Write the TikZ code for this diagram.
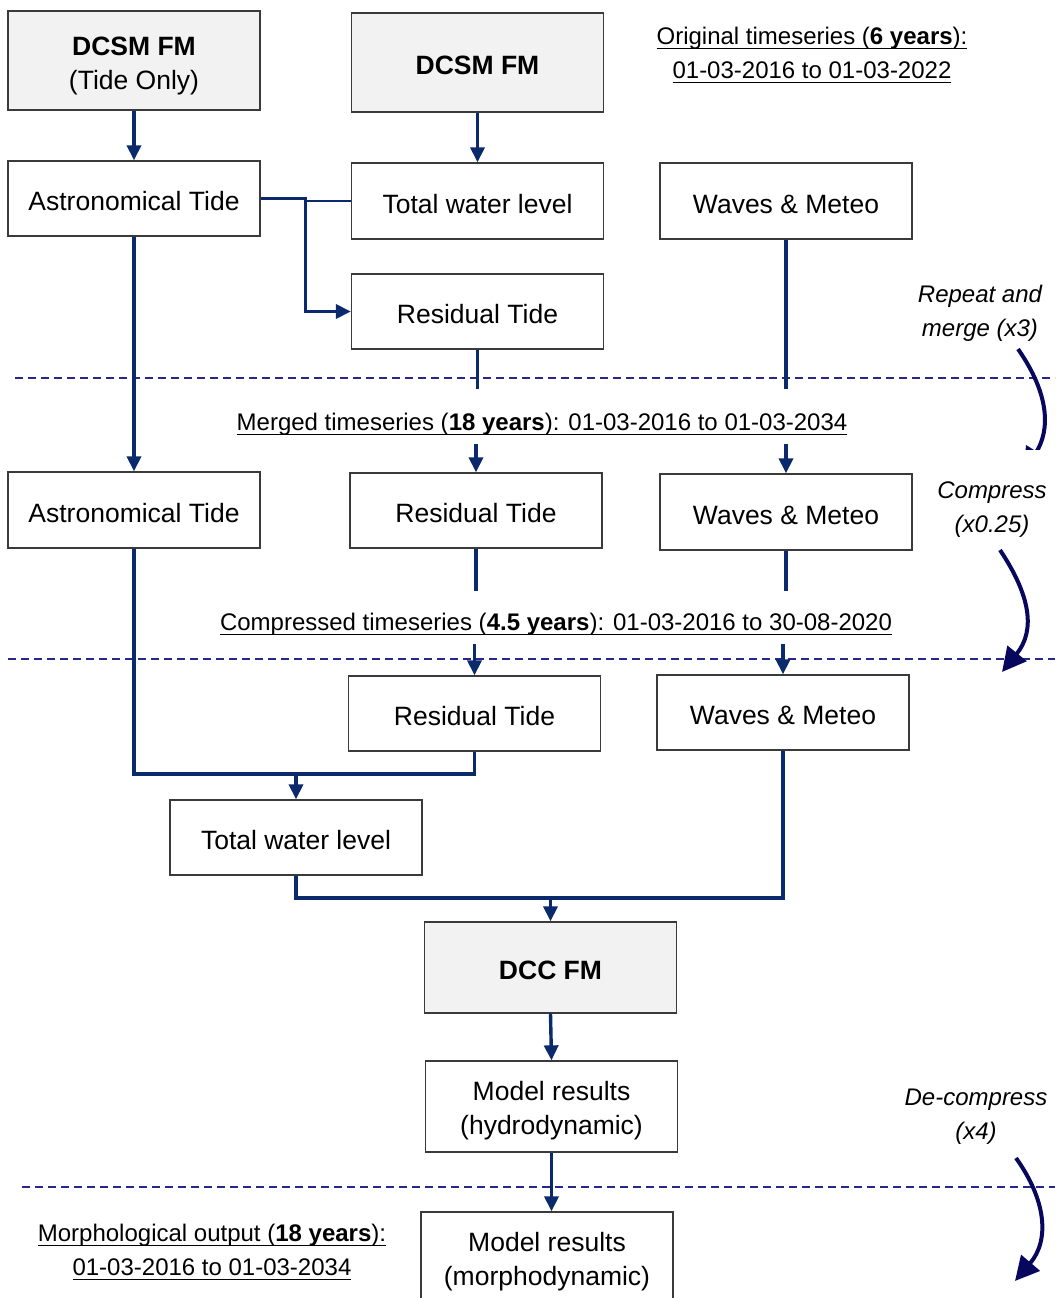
\documentclass[tikz,border=0pt]{standalone}
\usepackage{fontspec}
\setmainfont{Liberation Sans}
\usetikzlibrary{arrows.meta,calc}
\definecolor{navy}{HTML}{0B2A6B}
\definecolor{dnavy}{HTML}{07075E}
\definecolor{dashc}{HTML}{27278A}
\definecolor{boxgray}{HTML}{F2F2F2}
\definecolor{edge}{HTML}{3A3A3A}
\newcommand{\ulx}[1]{\begingroup\setbox0\hbox{#1}\leavevmode\rlap{\rule[-5pt]{\wd0}{1.5pt}}\box0\endgroup}
\begin{document}
\begin{tikzpicture}[x=1pt,y=-1pt,
 box/.style={draw=edge,line width=1.3pt,inner sep=0pt,align=center,font=\fontsize{26.5}{34}\selectfont,minimum width=252pt,execute at begin node={\rule{0pt}{25pt}}},
 model/.style={box,fill=boxgray},
 conn/.style={draw=navy,line width=3.4pt},
 arr/.style={conn,-{Triangle[length=15pt,width=14pt]}},
 sep/.style={draw=dashc,line width=1.6pt,dash pattern=on 8pt off 5pt},
 lbl/.style={inner sep=0pt,align=center,font=\fontsize{24}{34}\selectfont},
 note/.style={inner sep=0pt,align=center,font=\fontsize{24}{34}\selectfont\itshape},
 curvy/.style={draw=dnavy,line width=4pt},
 curvyarr/.style={curvy,-{Triangle[length=24pt,width=24pt]}},
]
\clip (0,0) rectangle (1055,1298);
\fill[white] (0,0) rectangle (1055,1298);

% separators
\draw[sep] (15,378) -- (1055,378);
\draw[sep] (8,659) -- (1055,659);
\draw[sep] (22,1187) -- (1055,1187);

% boxes
\node[model,minimum height=99pt] (A) at (134,60.5) {\rule{0pt}{29pt}{\bfseries DCSM FM}\\(Tide Only)};
\node[model,minimum height=99pt] (B) at (477.5,62.5) {\bfseries DCSM FM};
\node[box,minimum height=75pt] (C) at (134,198.5) {Astronomical Tide};
\node[box,minimum height=76pt] (D) at (477.5,201) {Total water level};
\node[box,minimum height=76pt] (E) at (786,201) {Waves \& Meteo};
\node[box,minimum height=75pt] (F) at (477.5,311.5) {Residual Tide};
\node[box,minimum height=76pt] (G) at (134,510) {Astronomical Tide};
\node[box,minimum height=75pt] (H) at (476,510.5) {Residual Tide};
\node[box,minimum height=76pt] (I) at (786,512) {Waves \& Meteo};
\node[box,minimum height=75pt] (J) at (474.5,713.5) {Residual Tide};
\node[box,minimum height=75pt] (K) at (783,712.5) {Waves \& Meteo};
\node[box,minimum height=75pt] (L) at (296,837.5) {Total water level};
\node[model,minimum height=91pt] (M) at (550.5,967.5) {\bfseries DCC FM};
\node[box,minimum height=91pt] (N) at (551.5,1106.5) {\rule{0pt}{27pt}Model results\\(hydrodynamic)};
\node[box,minimum height=91pt] (O) at (547,1257.5) {\rule{0pt}{27pt}Model results\\(morphodynamic)};

% labels
\node[lbl] (orig) at (812,54) {\rule{0pt}{19.5pt}\ulx{Original timeseries (\textbf{6 years}):}\\\ulx{01-03-2016 to 01-03-2022}};
\node[lbl] (merged) at (542,421) {\rule{0pt}{23.5pt}\ulx{Merged timeseries (\textbf{18 years}): 01-03-2016 to 01-03-2034}};
\node[lbl] (compr) at (556,621) {\rule{0pt}{23.5pt}\ulx{Compressed timeseries (\textbf{4.5 years}): 01-03-2016 to 30-08-2020}};
\node[lbl] (morph) at (212,1251) {\rule{0pt}{19.5pt}\ulx{Morphological output (\textbf{18 years}):}\\\ulx{01-03-2016 to 01-03-2034}};
\node[note] (n1) at (980,311) {\rule{0pt}{21.5pt}Repeat and\\merge (x3)};
\node[note] (n2) at (992,506) {\rule{0pt}{23.5pt}Compress\\(x0.25)};
\node[note] (n3) at (976,1113) {\rule{0pt}{23.5pt}De-compress\\(x4)};

% connectors top
\draw[arr] (A) -- (C);
\draw[arr] (B) -- (D);
\coordinate (j1) at ($(C.east)+(45,0)$);
\draw[conn,line width=2.8pt] (D.west) -- (D.west -| j1);
\draw[arr] (C.east) -- (j1) |- (F.west);
\draw[arr] (C) -- (G);
\coordinate (f1) at ($(F.south)+(0,39)$);
\coordinate (e1) at ($(E.south |- f1)$);
\draw[conn] (F) -- (f1);
\draw[conn] (E) -- (e1);
\coordinate (h0) at ($(H.north)+(0,-28)$);
\coordinate (i0) at ($(I.north)+(0,-29)$);
\draw[arr] (h0) -- (H.north);
\draw[arr] (i0) -- (I.north);
% middle
\coordinate (h1) at ($(H.south)+(0,42)$);
\coordinate (i1) at ($(I.south |- h1)$);
\draw[conn] (H) -- (h1);
\draw[conn] (I) -- (i1);
\coordinate (j0) at ($(J.north)+(0,-31)$);
\coordinate (k0) at ($(K.north)+(0,-30)$);
\draw[arr] (j0) -- (J.north);
\draw[arr] (k0) -- (K.north);
% merge into total water level
\coordinate (m1) at (296,774);
\draw[conn] (G.south) |- (m1);
\draw[conn] (J.south) |- (m1);
\draw[arr] (m1) -- (L.north);
% merge into DCC FM
\coordinate (m2) at (550.5,898);
\draw[conn] (L.south) |- (m2);
\draw[conn] (K.south) |- (m2);
\draw[arr] (m2) -- (M.north);
\draw[arr] (M.south) -- (N.north);
\draw[arr] (N.south) -- (N.south |- O.north);

% curved arrows
\begin{scope}
\clip (900,330) rectangle (1055,449);
\draw[curvyarr] (1018,349) .. controls (1050,395) and (1050,430) .. (1024,472);
\end{scope}
\draw[curvyarr] (1000,550) .. controls (1030,595) and (1036,630) .. (1002,672);
\draw[curvyarr] (1016,1158) .. controls (1046,1200) and (1050,1240) .. (1015,1281);
\end{tikzpicture}
\end{document}
